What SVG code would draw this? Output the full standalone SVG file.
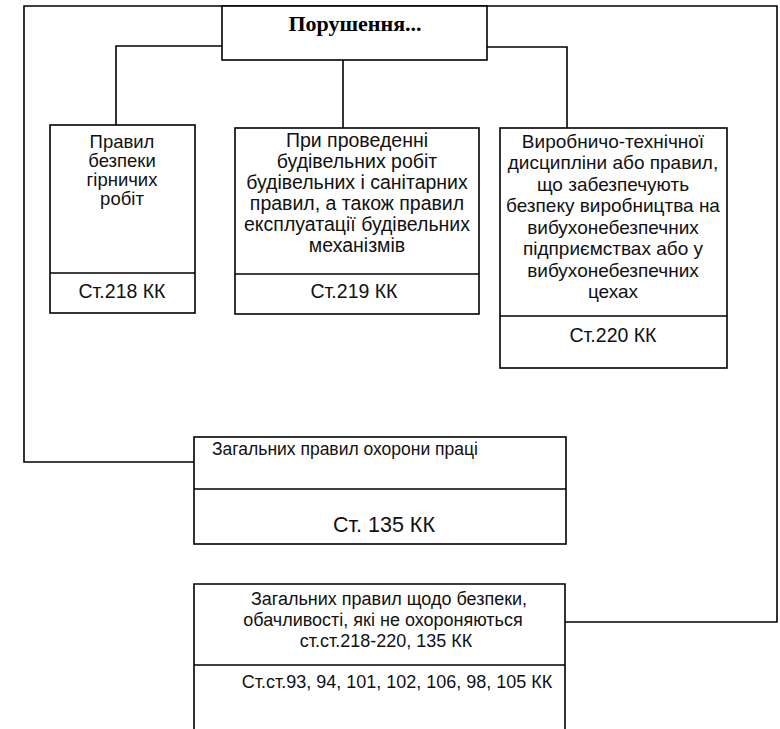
<svg xmlns="http://www.w3.org/2000/svg" width="780" height="729" viewBox="0 0 780 729">
  <style>
    .box { fill: #ffffff; stroke: #000000; stroke-width: 1.6; }
    .div { fill: none; stroke: #000000; stroke-width: 1.6; }
    .wire { fill: none; stroke: #000000; stroke-width: 1.6; }
    .t { font-family: "Liberation Sans", Arial, sans-serif; font-size: 19px; fill: #111111; text-anchor: middle; }
    .s18 { font-size: 18px; }
    .s185 { font-size: 18.5px; }
    .s195 { font-size: 19.5px; }
    .s175 { font-size: 17.5px; }
    .art { font-size: 19.5px; }
    .big { font-size: 21.5px; }
    .head { font-family: "Liberation Serif", "Times New Roman", serif; font-size: 22px; font-weight: bold; fill: #000000; text-anchor: middle; }
  </style>

  <!-- connectors -->
  <g id="connectors">
    <path class="wire" d="M565,622 H777 V6 H24 V462 H194"/>
    <path class="wire" d="M222,46 H116 V125"/>
    <path class="wire" d="M343,60 V128"/>
    <path class="wire" d="M487,47 H567 V128"/>
  </g>

  <!-- root -->
  <g id="node-root">
    <rect class="box" x="222" y="6" width="265" height="54"/>
    <text class="head" x="355" y="31">Порушення...</text>
  </g>

  <!-- Art. 218 -->
  <g id="node-218">
    <rect class="box" x="50" y="125" width="145" height="188"/>
    <line class="div" x1="50" y1="273" x2="195" y2="273"/>
    <text class="t s185" x="122" y="148">Правил</text>
    <text class="t s185" x="122" y="167">безпеки</text>
    <text class="t s185" x="122" y="186">гірничих</text>
    <text class="t s185" x="122" y="205">робіт</text>
    <text class="t art" x="122" y="298">Ст.218 КК</text>
  </g>

  <!-- Art. 219 -->
  <g id="node-219">
    <rect class="box" x="235" y="128" width="244" height="186"/>
    <line class="div" x1="235" y1="274" x2="479" y2="274"/>
    <text class="t s195" x="357" y="147">При проведенні</text>
    <text class="t s195" x="357" y="168">будівельних робіт</text>
    <text class="t s195" x="357" y="189">будівельних і санітарних</text>
    <text class="t s195" x="357" y="210">правил, а також правил</text>
    <text class="t s195" x="357" y="231">експлуатації будівельних</text>
    <text class="t s195" x="357" y="252">механізмів</text>
    <text class="t art" x="354" y="298">Ст.219 КК</text>
  </g>

  <!-- Art. 220 -->
  <g id="node-220">
    <rect class="box" x="500" y="128" width="227" height="240"/>
    <line class="div" x1="500" y1="316" x2="727" y2="316"/>
    <text class="t" x="613" y="148">Виробничо-технічної</text>
    <text class="t" x="613" y="169">дисципліни або правил,</text>
    <text class="t" x="613" y="191">що забезпечують</text>
    <text class="t" x="613" y="212">безпеку виробництва на</text>
    <text class="t" x="613" y="234">вибухонебезпечних</text>
    <text class="t" x="613" y="255">підприємствах або у</text>
    <text class="t" x="613" y="277">вибухонебезпечних</text>
    <text class="t" x="613" y="298">цехах</text>
    <text class="t art" x="613" y="342">Ст.220 КК</text>
  </g>

  <!-- Art. 135 -->
  <g id="node-135">
    <rect class="box" x="194" y="437" width="372" height="107"/>
    <line class="div" x1="194" y1="489" x2="566" y2="489"/>
    <text class="t s175" x="345" y="455">Загальних правил охорони праці</text>
    <text class="t big" x="384" y="532">Ст. 135 КК</text>
  </g>

  <!-- general safety rules -->
  <g id="node-general">
    <path class="box" d="M194,729 V584 H565 V729"/>
    <line class="div" x1="194" y1="665" x2="565" y2="665"/>
    <text class="t s18" x="389" y="605">Загальних правил щодо безпеки,</text>
    <text class="t s18" x="383" y="626">обачливості, які  не охороняються</text>
    <text class="t s18" x="386" y="647">ст.ст.218-220, 135 КК</text>
    <text class="t s18" x="397" y="688">Ст.ст.93, 94, 101, 102, 106, 98, 105 КК</text>
  </g>
</svg>
